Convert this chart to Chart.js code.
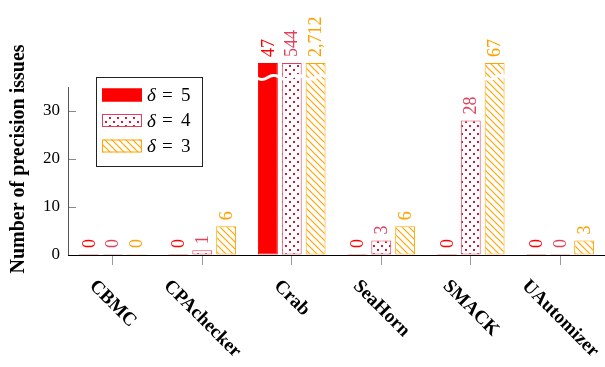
<!DOCTYPE html>
<html><head><meta charset="utf-8">
<script src="https://cdn.jsdelivr.net/npm/chart.js@4.4.1/dist/chart.umd.min.js"></script>
<style>html,body{margin:0;padding:0;background:#fff;}#wrap{width:605px;height:367px;}</style>
</head><body><div id="wrap"><canvas id="c" width="605" height="367"></canvas></div>
<script>
const categories = ['CBMC', 'CPAchecker', 'Crab', 'SeaHorn', 'SMACK', 'UAutomizer'];
const delta5 = [0, 0, 47, 0, 0, 0];
const delta4 = [0, 1, 544, 3, 28, 0];
const delta3 = [0, 6, 2712, 6, 67, 3];
const seriesDeltas = ['5', '4', '3'];
const yTickValues = [0, 10, 20, 30];
const axisTop = 35;
const barCap = 40;
const breakAt = 37;

const RED = '#ff0000', CRIMSON = '#dc143c', ORANGE = '#ffa500';
const SERIF = '"Liberation Serif", "Times New Roman", serif';

function dotPattern() {
  const c = document.createElement('canvas'); c.width = 8; c.height = 8;
  const x = c.getContext('2d');
  x.fillStyle = '#fff'; x.fillRect(0, 0, 8, 8);
  x.fillStyle = CRIMSON; x.fillRect(1, 1, 2, 2); x.fillRect(5, 5, 2, 2);
  return x.createPattern(c, 'repeat');
}
function hatchPattern() {
  const s = 7;
  const c = document.createElement('canvas'); c.width = s; c.height = s;
  const x = c.getContext('2d');
  x.fillStyle = '#fff'; x.fillRect(0, 0, s, s);
  x.strokeStyle = ORANGE; x.lineWidth = 1.2;
  x.beginPath();
  x.moveTo(-1, -1); x.lineTo(s + 1, s + 1);
  x.moveTo(s - 1, -1); x.lineTo(s + 1, 1);
  x.moveTo(-1, s - 1); x.lineTo(1, s + 1);
  x.stroke();
  return x.createPattern(c, 'repeat');
}
const fills = [RED, dotPattern(), hatchPattern()];
const borders = [RED, '#e0405c', ORANGE];
const textColors = [RED, '#e0405c', '#ffa000'];
const raw = [delta5, delta4, delta3];

const datasets = raw.map((arr, i) => ({
  label: 'δ = ' + seriesDeltas[i],
  data: arr.map(v => Math.min(v, barCap)),
  backgroundColor: fills[i],
  borderColor: borders[i],
  borderWidth: 1,
  borderSkipped: false,
  minBarLength: 1,
  barPercentage: 0.833,
  categoryPercentage: 0.8
}));

const decorPlugin = {
  id: 'decor',
  beforeDatasetsDraw(chart) {
    const ctx = chart.ctx, y = chart.scales.y, a = chart.chartArea;
    ctx.save();
    ctx.strokeStyle = '#555'; ctx.lineWidth = 1;
    ctx.beginPath();
    ctx.moveTo(a.left + 0.5, y.getPixelForValue(axisTop));
    ctx.lineTo(a.left + 0.5, y.getPixelForValue(0));
    ctx.stroke();
    ctx.restore();
  },
  afterDatasetsDraw(chart) {
    const ctx = chart.ctx, ys = chart.scales.y, xs = chart.scales.x, a = chart.chartArea;
    ctx.save();
    // break marks
    raw.forEach((arr, d) => {
      const meta = chart.getDatasetMeta(d);
      meta.data.forEach((el, i) => {
        if (arr[i] > barCap) {
          const yy = ys.getPixelForValue(breakAt);
          const x0 = el.x - el.width / 2 - 2, x1 = el.x + el.width / 2 + 2;
          ctx.strokeStyle = '#fff'; ctx.lineWidth = 3;
          ctx.beginPath();
          for (let k = 0; k <= 24; k++) {
            const t = k / 24;
            const px = x0 + (x1 - x0) * t;
            const py = yy + 2 * Math.sin(2 * Math.PI * t);
            if (k === 0) ctx.moveTo(px, py); else ctx.lineTo(px, py);
          }
          ctx.stroke();
        }
      });
    });
    // value labels
    ctx.font = '18px ' + SERIF;
    raw.forEach((arr, d) => {
      const meta = chart.getDatasetMeta(d);
      meta.data.forEach((el, i) => {
        ctx.save();
        ctx.translate(el.x + 1, el.y - 6);
        ctx.rotate(-Math.PI / 2);
        ctx.fillStyle = textColors[d];
        ctx.textAlign = 'left'; ctx.textBaseline = 'middle';
        ctx.fillText(arr[i].toLocaleString('en-US'), 0, 0);
        ctx.restore();
      });
    });
    // x tick labels rotated
    ctx.font = 'bold 19px ' + SERIF;
    ctx.fillStyle = '#000';
    categories.forEach((c, i) => {
      const x = xs.getPixelForValue(i);
      const w = ctx.measureText(c).width;
      const cy = a.bottom + 24 + (w + 12) / (2 * Math.SQRT2);
      ctx.save();
      ctx.translate(x, cy);
      ctx.rotate(Math.PI / 4);
      ctx.textAlign = 'center'; ctx.textBaseline = 'middle';
      ctx.fillText(c, 0, 0);
      ctx.restore();
    });
    // legend
    const bx = a.left + 28, by = a.top + 14, bw = 106, bh = 89;
    ctx.fillStyle = '#fff'; ctx.fillRect(bx, by, bw, bh);
    ctx.strokeStyle = '#222'; ctx.lineWidth = 1;
    ctx.strokeRect(bx + 0.5, by + 0.5, bw, bh);
    for (let d = 0; d < 3; d++) {
      const cyy = by + 18 + d * 25.5;
      ctx.fillStyle = fills[d];
      ctx.fillRect(bx + 6, cyy - 6.5, 40, 13);
      ctx.strokeStyle = borders[d];
      ctx.strokeRect(bx + 6.5, cyy - 6, 39, 12);
      ctx.fillStyle = '#000';
      ctx.textBaseline = 'middle'; ctx.textAlign = 'left';
      ctx.font = 'italic 19px ' + SERIF;
      ctx.fillText('δ', bx + 51, cyy + 1);
      ctx.font = '19px ' + SERIF;
      ctx.fillText('=', bx + 66, cyy + 1);
      ctx.fillText(seriesDeltas[d], bx + 85, cyy + 1);
    }
    ctx.restore();
  }
};

new Chart(document.getElementById('c'), {
  type: 'bar',
  data: { labels: categories, datasets },
  plugins: [decorPlugin],
  options: {
    responsive: false,
    animation: false,
    layout: { padding: { top: 63, right: -3, left: 0, bottom: 0 } },
    plugins: { legend: { display: false }, tooltip: { enabled: false } },
    scales: {
      x: {
        type: 'category',
        offset: true,
        grid: { display: true, offset: false, drawOnChartArea: false, drawTicks: true, tickLength: 10, color: '#999' },
        border: { display: true, color: '#000', width: 1 },
        ticks: { display: false },
        afterFit(s) { s.height = 112; }
      },
      y: {
        min: 0, max: barCap,
        afterBuildTicks(s) { s.ticks = yTickValues.map(v => ({ value: v })); },
        grid: { drawOnChartArea: false, drawTicks: true, tickLength: -8, color: '#888' },
        border: { display: false },
        ticks: { padding: 16, color: '#000', font: { family: SERIF, size: 17 } },
        title: { display: true, text: 'Number of precision issues', color: '#000',
                 font: { family: SERIF, size: 20, weight: 'bold' }, padding: { top: 7, bottom: 0 } },
        afterFit(s) { s.width = 68; }
      }
    }
  }
});
</script></body></html>
